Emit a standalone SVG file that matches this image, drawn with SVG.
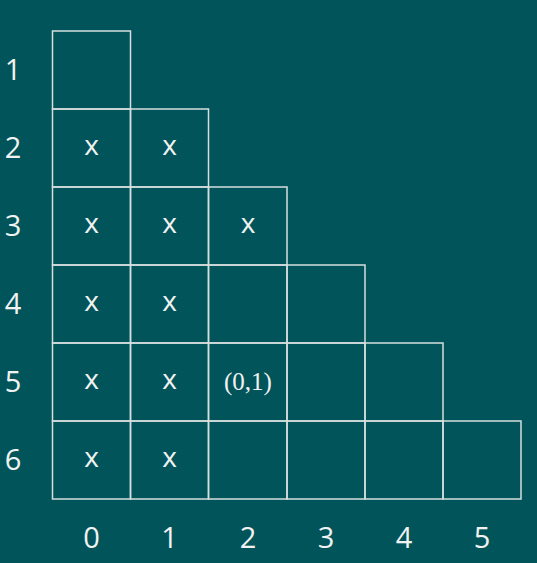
<svg xmlns="http://www.w3.org/2000/svg" width="537" height="563" viewBox="0 0 537 563">
<style>
.cell{fill:none;stroke:#d6dede;stroke-width:1.5}
.lbl{font-family:"Open Sans","Liberation Sans",sans-serif;font-size:29px;fill:#f2f2f2;text-anchor:middle}
.x{font-family:"Open Sans","Liberation Sans",sans-serif;font-size:28px;fill:#f2f2f2;text-anchor:middle}
.pair{font-family:"Liberation Serif",serif;font-size:25px;fill:#f2f2f2;text-anchor:middle}
</style>
<rect width="537" height="563" fill="#01555a"/>
<g id="cells">
<rect class="cell" x="52.5" y="31" width="78" height="78"/>
<rect class="cell" x="52.5" y="109" width="78" height="78"/>
<rect class="cell" x="130.5" y="109" width="78" height="78"/>
<rect class="cell" x="52.5" y="187" width="78" height="78"/>
<rect class="cell" x="130.5" y="187" width="78" height="78"/>
<rect class="cell" x="208.5" y="187" width="78.5" height="78"/>
<rect class="cell" x="52.5" y="265" width="78" height="78"/>
<rect class="cell" x="130.5" y="265" width="78" height="78"/>
<rect class="cell" x="208.5" y="265" width="78.5" height="78"/>
<rect class="cell" x="287" y="265" width="78" height="78"/>
<rect class="cell" x="52.5" y="343" width="78" height="78"/>
<rect class="cell" x="130.5" y="343" width="78" height="78"/>
<rect class="cell" x="208.5" y="343" width="78.5" height="78"/>
<rect class="cell" x="287" y="343" width="78" height="78"/>
<rect class="cell" x="365" y="343" width="78" height="78"/>
<rect class="cell" x="52.5" y="421" width="78" height="78"/>
<rect class="cell" x="130.5" y="421" width="78" height="78"/>
<rect class="cell" x="208.5" y="421" width="78.5" height="78"/>
<rect class="cell" x="287" y="421" width="78" height="78"/>
<rect class="cell" x="365" y="421" width="78" height="78"/>
<rect class="cell" x="443" y="421" width="78" height="78"/>
</g>
<g id="row-labels">
<text class="lbl" x="13" y="80">1</text>
<text class="lbl" x="13" y="158">2</text>
<text class="lbl" x="13" y="236">3</text>
<text class="lbl" x="13" y="314">4</text>
<text class="lbl" x="13" y="392">5</text>
<text class="lbl" x="13" y="470">6</text>
</g>
<g id="col-labels">
<text class="lbl" x="91.5" y="548">0</text>
<text class="lbl" x="169.5" y="548">1</text>
<text class="lbl" x="248" y="548">2</text>
<text class="lbl" x="326" y="548">3</text>
<text class="lbl" x="404" y="548">4</text>
<text class="lbl" x="482" y="548">5</text>
</g>
<g id="marks">
<text class="x" x="91.5" y="155">x</text>
<text class="x" x="169.5" y="155">x</text>
<text class="x" x="91.5" y="233">x</text>
<text class="x" x="169.5" y="233">x</text>
<text class="x" x="248" y="233">x</text>
<text class="x" x="91.5" y="311">x</text>
<text class="x" x="169.5" y="311">x</text>
<text class="x" x="91.5" y="389">x</text>
<text class="x" x="169.5" y="389">x</text>
<text class="x" x="91.5" y="467">x</text>
<text class="x" x="169.5" y="467">x</text>
<text class="pair" x="248" y="390">(0,1)</text>
</g>
</svg>
